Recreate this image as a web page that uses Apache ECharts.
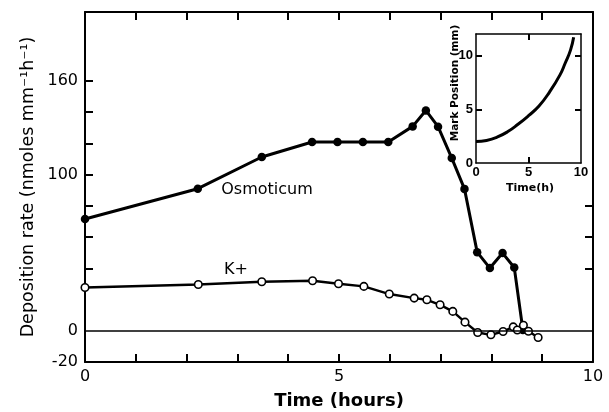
<!DOCTYPE html>
<html>
<head>
<meta charset="utf-8">
<script src="https://cdn.jsdelivr.net/npm/echarts@6/dist/echarts.min.js"></script>
<style>
html,body{margin:0;padding:0;background:#fff;}
#c{width:609px;height:412px;}
</style>
</head>
<body>
<div id="c"></div>
<script>
// ---- data ----
const osmTime = [0, 2.22, 3.48, 4.47, 4.97, 5.47, 5.97, 6.45, 6.71, 6.95, 7.22, 7.47, 7.72, 7.97, 8.22, 8.45, 8.62];
const osmRate = [71.5, 90.9, 111.2, 120.8, 120.8, 120.8, 120.8, 130.8, 141, 130.6, 110.5, 90.8, 50.3, 40.1, 49.7, 40.5, 0.5];
const kTime = [0, 2.23, 3.48, 4.48, 4.99, 5.49, 5.99, 6.48, 6.73, 6.99, 7.24, 7.48, 7.73, 7.99, 8.23, 8.43, 8.51, 8.63, 8.73, 8.92];
const kRate = [27.7, 29.6, 31.4, 32, 30.1, 28.4, 23.5, 20.9, 19.8, 16.6, 12.4, 5.5, -1.1, -2.6, -0.5, 2.5, 0.5, 3.5, -0.3, -4.3];
const insetTime = [0, 1, 2, 3, 4, 5, 6, 7, 8, 8.5, 9, 9.3];
const insetMark = [2, 2.1, 2.4, 2.9, 3.6, 4.4, 5.3, 6.6, 8.2, 9.3, 10.5, 11.7];

const mainXLabels = [0, 5, 10];
const mainXTicks = [1, 2, 3, 4, 5, 6, 7, 8, 9];
const mainYLabels = [-20, 0, 100, 160];
const mainYTicksLeft = [40, 60, 80, 100, 120, 140, 160];
const mainYTicksRight = [40, 60, 80];
const insetXLabels = [0, 5, 10];
const insetXTicks = [5];
const insetYLabels = [0, 5, 10];
const insetYTicks = [5, 10];

const zip = (a, b) => a.map((v, i) => [v, b[i]]);
const F = 'DejaVu Sans';

function axis(o) {
  return Object.assign({
    type: 'value',
    axisLine: { show: true, onZero: false, lineStyle: { color: '#000', width: 2 } },
    axisTick: { show: true, inside: true, length: 8, lineStyle: { color: '#000', width: 2 } },
    axisLabel: { show: false },
    splitLine: { show: false }
  }, o);
}
function labels(vals, size, fam, weight) {
  return { show: true, customValues: vals, color: '#000', fontSize: size, fontFamily: fam, fontWeight: weight || 'normal', margin: 7 };
}

const chart = echarts.init(document.getElementById('c'), null, { renderer: 'canvas' });
chart.setOption({
  animation: false,
  backgroundColor: '#fff',
  grid: [
    { left: 85, right: 16, top: 12, bottom: 50 },
    { left: 476, right: 28, top: 34, bottom: 249 }
  ],
  xAxis: [
    axis({ gridIndex: 0, position: 'bottom', min: 0, max: 10,
      axisTick: { show: true, inside: true, length: 8, customValues: mainXTicks, lineStyle: { color: '#000', width: 2 } },
      axisLabel: labels(mainXLabels, 16, F) }),
    axis({ gridIndex: 0, position: 'top', min: 0, max: 10,
      axisTick: { show: true, inside: true, length: 8, customValues: mainXTicks, lineStyle: { color: '#000', width: 2 } } }),
    axis({ gridIndex: 1, position: 'bottom', min: 0, max: 10,
      axisLine: { show: true, onZero: false, lineStyle: { color: '#000', width: 1.5 } },
      axisTick: { show: true, inside: true, length: 6, customValues: insetXTicks, lineStyle: { color: '#000', width: 2 } },
      axisLabel: Object.assign(labels(insetXLabels, 13, 'Liberation Sans', 'bold'), { margin: 3 }) }),
    axis({ gridIndex: 1, position: 'top', min: 0, max: 10,
      axisLine: { show: true, onZero: false, lineStyle: { color: '#000', width: 1.5 } },
      axisTick: { show: true, inside: true, length: 6, customValues: insetXTicks, lineStyle: { color: '#000', width: 2 } } })
  ],
  yAxis: [
    axis({ gridIndex: 0, position: 'left', min: -20, max: 204,
      axisTick: { show: true, inside: true, length: 8, customValues: mainYTicksLeft, lineStyle: { color: '#000', width: 2 } },
      axisLabel: labels(mainYLabels, 16, F) }),
    axis({ gridIndex: 0, position: 'right', min: -20, max: 204,
      axisTick: { show: true, inside: true, length: 8, customValues: mainYTicksRight, lineStyle: { color: '#000', width: 2 } } }),
    axis({ gridIndex: 1, position: 'left', min: 0, max: 12,
      axisLine: { show: true, onZero: false, lineStyle: { color: '#000', width: 1.5 } },
      axisTick: { show: true, inside: true, length: 6, customValues: insetYTicks, lineStyle: { color: '#000', width: 2 } },
      axisLabel: Object.assign(labels(insetYLabels, 13, 'Liberation Sans', 'bold'), { margin: 3 }) }),
    axis({ gridIndex: 1, position: 'right', min: 0, max: 12,
      axisLine: { show: true, onZero: false, lineStyle: { color: '#000', width: 1.5 } },
      axisTick: { show: true, inside: true, length: 6, customValues: insetYTicks, lineStyle: { color: '#000', width: 2 } } })
  ],
  series: [
    {
      name: 'Osmoticum', type: 'line', xAxisIndex: 0, yAxisIndex: 0,
      data: zip(osmTime, osmRate),
      symbol: 'circle', symbolSize: 8.5,
      itemStyle: { color: '#000' },
      lineStyle: { color: '#000', width: 3 },
      z: 3,
      markLine: {
        silent: true, symbol: 'none', animation: false,
        label: { show: false },
        lineStyle: { color: '#000', width: 1.5, type: 'solid' },
        data: [{ yAxis: 0 }]
      }
    },
    {
      name: 'K+', type: 'line', xAxisIndex: 0, yAxisIndex: 0,
      data: zip(kTime, kRate),
      symbol: 'circle', symbolSize: 7.5,
      itemStyle: { color: '#fff', borderColor: '#000', borderWidth: 1.6 },
      lineStyle: { color: '#000', width: 2.4 },
      z: 4
    },
    {
      name: 'Mark', type: 'line', xAxisIndex: 2, yAxisIndex: 2,
      data: zip(insetTime, insetMark),
      smooth: true, showSymbol: false, symbol: 'none',
      lineStyle: { color: '#000', width: 3 }
    }
  ],
  graphic: [
    { type: 'text', x: 28, y: 187, rotation: Math.PI / 2,
      style: { text: 'Deposition rate (nmoles mm\u207B\u00B9h\u207B\u00B9)', fill: '#000', font: '17.5px "DejaVu Sans"', textAlign: 'center', textVerticalAlign: 'middle' } },
    { type: 'text', x: 339, y: 401,
      style: { text: 'Time (hours)', fill: '#000', font: 'bold 18px "DejaVu Sans"', textAlign: 'center', textVerticalAlign: 'middle' } },
    { type: 'text', x: 267, y: 190,
      style: { text: 'Osmoticum', fill: '#000', font: '16px "DejaVu Sans"', textAlign: 'center', textVerticalAlign: 'middle' } },
    { type: 'text', x: 236, y: 270,
      style: { text: 'K+', fill: '#000', font: '16px "DejaVu Sans"', textAlign: 'center', textVerticalAlign: 'middle' } },
    { type: 'text', x: 455, y: 83, rotation: Math.PI / 2,
      style: { text: 'Mark Position (mm)', fill: '#000', font: 'bold 10.5px "DejaVu Sans"', textAlign: 'center', textVerticalAlign: 'middle' } },
    { type: 'text', x: 530, y: 188,
      style: { text: 'Time(h)', fill: '#000', font: 'bold 11px "DejaVu Sans"', textAlign: 'center', textVerticalAlign: 'middle' } }
  ]
});
</script>
</body>
</html>
